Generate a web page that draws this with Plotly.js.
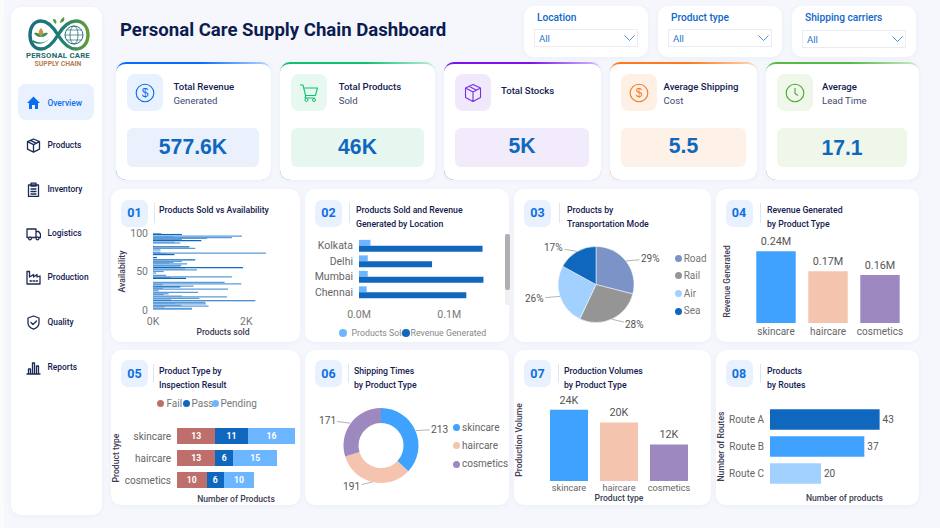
<!DOCTYPE html>
<html><head><meta charset="utf-8">
<script src="https://cdn.plot.ly/plotly-3.0.1.min.js"></script>
<style>
html,body{margin:0;padding:0;width:940px;height:528px;overflow:hidden;background:#f5f7fd}
#page{position:relative;width:940px;height:528px;overflow:hidden;font-family:Roboto,sans-serif}
.box{position:absolute;box-sizing:border-box}
.card{position:absolute;box-sizing:border-box;background:#fff;border-radius:10px;box-shadow:0 1px 5px rgba(40,70,130,.05)}
.t{position:absolute;white-space:nowrap;transform:translateY(-50%);line-height:1}
.plot{position:absolute}
</style></head><body><div id="page"></div>
<script>
// ---------- chart data ----------
const availability = [99,98,96,95,94,93,91,90,88,87,83,82,80,78,75,74,73,72,68,65,63,62,61,60,58,57,55,53,52,50,48,45,43,42,41,36,34,33,31,30,28,27,25,23,21,20,18,17,15,13,12,10,9,8,6,5,4,2,1];
const productsSold = [180,620,1907,440,1690,1157,620,1035,465,585,15,780,905,160,160,2420,280,457,85,905,620,440,350,730,607,585,1930,693,943,230,65,280,1690,370,707,1535,1893,207,870,585,207,1607,120,964,335,230,620,1585,993,393,2193,1120,480,1135,607,1190,250,835,835];
const locations = ["Kolkata","Delhi","Mumbai","Chennai"];
const locationSold = [12700,9700,9700,8500];
const locationRevenue = [137000,81000,138000,119000];
const modes = ["Road","Rail","Air","Sea"];
const modeShare = [29,28,26,17];
const productTypes = ["skincare","haircare","cosmetics"];
const revenueByType = [241628,174455,161521];
const revenueLabels = ["0.24M","0.17M","0.16M"];
const inspectFail = [13,13,10];
const inspectPass = [11,6,6];
const inspectPending = [16,15,10];
const shippingTimes = [213,191,171];
const productionVolume = [24000,19700,12300];
const productionLabels = ["24K","20K","12K"];
const routes = ["Route A","Route B","Route C"];
const routeProducts = [43,37,20];
const kpiValues = ["577.6K","46K","5K","5.5","17.1"];
const navItems = ["Overview","Products","Inventory","Logistics","Production","Quality","Reports"];
const filterNames = ["Location","Product type","Shipping carriers"];

// ---------- palette ----------
const DARK="#1068BE",SKY="#40A2FF",LIGHT="#6CB6FF",PALE="#A2D0FF",PEACH="#F4C4AE",LILAC="#9D88C0",NAVY="#13204f",GREY="#666",AXT="#3d3d55";
const FONT='Roboto,sans-serif';
const page=document.getElementById("page");
function el(cls,style,html){const d=document.createElement("div");d.className=cls;d.style.cssText=style;if(html!=null)d.innerHTML=html;page.appendChild(d);return d;}
function rect(x0,y0,x1,y1,extra){return `left:${x0}px;top:${y0}px;width:${x1-x0}px;height:${y1-y0}px;${extra||""}`;}
function text(x,y,s,size,color,weight,extra){return el("t",`left:${x}px;top:${y}px;font-size:${size}px;color:${color};font-weight:${weight||400};${extra||""}`,s);}
function dot(x,y,c,d){d=d||8;el("box",`left:${x-d/2}px;top:${y-d/2}px;width:${d}px;height:${d}px;border-radius:50%;background:${c}`);}

// ---------- shell ----------
el("box",rect(0,0,4,528,"background:#fbfbfc"));
el("card",rect(11,7,102,515));
// logo
el("box",rect(28,17,90,53),`<svg width="62" height="36" viewBox="0 0 62 36">
<defs><linearGradient id="lg" x1="0" x2="1"><stop offset="0" stop-color="#1b6f7c"/><stop offset=".55" stop-color="#1e7f76"/><stop offset="1" stop-color="#5f9c3c"/></linearGradient></defs>
<path d="M30 18C24 8 19 4 13 4 6 4 2 10 2 18s4 14 11 14c6 0 11-4 17-14s11-14 18-14 12 6 12 14-5 14-12 14c-7 0-12-4-18-14z" fill="none" stroke="url(#lg)" stroke-width="3.4"/>
<circle cx="46" cy="18" r="9" fill="none" stroke="#27707c" stroke-width="1"/><ellipse cx="46" cy="18" rx="4" ry="9" fill="none" stroke="#27707c" stroke-width=".8"/><path d="M37 18h18M38.5 13h15M38.5 23h15" stroke="#27707c" stroke-width=".7"/>
<path d="M13 20c-3-3-3-6 0-9 3 3 3 6 0 9z" fill="#c9963d"/><path d="M13 20c-4 0-6-2-7-4 3-1 6 0 7 4zM13 20c4 0 6-2 7-4-3-1-6 0-7 4z" fill="#3f8f58"/>
<path d="M5 23c4 3 11 4 16-1-4 5-12 6-16 3z" fill="#1e7f76"/><path d="M32 6c0-3 2-5 4-6 1 3 0 5-4 6zM28 7c-2-1-3-3-3-5 3 0 4 2 3 5z" fill="#4f9a45"/></svg>`);
text(58,56,"PERSONAL CARE",7.8,"#1f6a6f",700,"transform:translate(-50%,-50%);letter-spacing:.2px");
text(58,64.3,"SUPPLY CHAIN",6.8,"#b87a52",700,"transform:translate(-50%,-50%)");
el("box",rect(18,84,94,120,"background:#e8f1fd;border-radius:8px"));
const navY=[102.5,145,189,233,277,322,367];
const S=`fill="none" stroke="#1c2b55" stroke-width="1.3" stroke-linejoin="round" stroke-linecap="round"`;
const navIcons=[
`<path d="M1 8L7.5 1.5 14 8h-2v6H9v-4H6v4H3V8z" fill="#0b6cf0"/>`,
`<path d="M7.5 1l6 2.6v7.6l-6 3-6-3V3.6zM1.5 3.6l6 3 6-3M7.5 6.6v7.6M4.5 2.3l6 3" ${S}/>`,
`<path d="M2.5 3h10v11.5h-10zM5 1.2h5v3H5zM5 7h5M5 9.5h5M5 12h5" ${S}/>`,
`<path d="M1 3h9v8.5H1zM10 5.5h2.6L14.5 8v3.5H10zM3 11.5" ${S}/><circle cx="4" cy="12.5" r="1.4" fill="#fff" stroke="#1c2b55" stroke-width="1.2"/><circle cx="11.5" cy="12.5" r="1.4" fill="#fff" stroke="#1c2b55" stroke-width="1.2"/>`,
`<path d="M1 14V1.5h2.5V7l4-2.5V7l3.5-2.5V7l3 -1V14zM4 11h1.5M7 11h1.5M10 11h1.5" ${S}/>`,
`<path d="M7.5 1l5.5 2v5c0 3-2.5 5-5.5 6.2C4.5 13 2 11 2 8V3zM5 7.5l2 2 3.5-3.5" ${S}/>`,
`<path d="M1 14h13M2.5 14V9h2v5M6.5 14V3h2v11M10.500 14V6h2v8" ${S}/>`];
navItems.forEach((n,i)=>{
  el("box",`left:26px;top:${navY[i]-7.5}px;width:15px;height:15px`,`<svg width="15" height="15" viewBox="0 0 15 15">${navIcons[i]}</svg>`);
  text(47.5,navY[i],n,8.4,i?NAVY:"#0b6cf0",500);
});
text(120,30,"Personal Care Supply Chain Dashboard",18.6,"#0d1c50",700);

// filters
const chev=`<svg width="11" height="6" viewBox="0 0 11 6"><path d="M.5.5l5 5 5-5" fill="none" stroke="#3d82c9" stroke-width=".9"/></svg>`;
[524,658,792].forEach((x,i)=>{
  el("card",rect(x,6,x+124,57));
  text(x+13,17.5,filterNames[i],10.2,"#1068c8",500);
  const dy=i==2?1:0;
  el("box",rect(x+10,28.5+dy,x+114,46.5+dy,"border:1px solid #e9edf3;background:#fff"));
  text(x+15,39+dy,"All",9.6,"#2a76cf",400);
  el("box",`left:${x+100}px;top:${35+dy}px;height:6px;width:11px;line-height:0`,chev);
});

// KPI cards
const kpiCfg=[
 {x:[116,271],ic:127,v:259,tx:173.5,c:"#0a6cff",l:"#bcd7ff",ib:"#e8f1fe",vb:"#eaf1fc",a:"Total Revenue",b:"Generated",vy:146.5,
  svg:`<circle cx="10" cy="10" r="8.8" fill="none" stroke="#0b6cf0" stroke-width="1.1"/><text x="10" y="14.300" font-size="12" text-anchor="middle" fill="#0b6cf0" font-family="Liberation Sans">$</text>`},
 {x:[280,435],ic:291,v:424,tx:338.7,c:"#0cc26e",l:"#bdeed6",ib:"#e6f8ef",vb:"#e6f7ef",a:"Total Products",b:"Sold",vy:146.5,
  svg:`<path d="M1 2h3l2.600 10.500h9.800L18.500 5H4.700M6.800 12.500l-.8 2.500h10" fill="none" stroke="#12c271" stroke-width="1.1" stroke-linejoin="round"/><circle cx="7.500" cy="17" r="1.500" fill="none" stroke="#12c271"/><circle cx="15" cy="17" r="1.500" fill="none" stroke="#12c271"/>`},
 {x:[444,601],ic:455,v:589,tx:501,c:"#7a12ef",l:"#d6c0fa",ib:"#f0e9fc",vb:"#f1ebfb",a:"Total Stocks",b:"",vy:145.8,
  svg:`<path d="M10 1.500l7.500 3.500v9.500L10 18.500l-7.500-4V5zM2.500 5L10 9l7.500-4M10 9v9.500M6 3.200l7.500 4" fill="none" stroke="#7a2ee8" stroke-width="1.1" stroke-linejoin="round"/>`},
 {x:[610,757],ic:621,v:746,tx:663.5,c:"#ff7a1a",l:"#ffd9b8",ib:"#fff0e6",vb:"#fef1e7",a:"Average Shipping",b:"Cost",vy:145.8,
  svg:`<circle cx="10" cy="10" r="8.800" fill="none" stroke="#f57c1f" stroke-width="1.100"/><text x="10" y="14.300" font-size="12" text-anchor="middle" fill="#f57c1f" font-family="Liberation Sans">$</text>`},
 {x:[766,919],ic:777,v:907,tx:822,c:"#58b947",l:"#cfeac8",ib:"#eef7e9",vb:"#eef7ea",a:"Average",b:"Lead Time",vy:147.5,
  svg:`<circle cx="10" cy="10" r="8.800" fill="none" stroke="#47a92f" stroke-width="1.100"/><path d="M10 5v5.500l3 2" fill="none" stroke="#47a92f" stroke-width="1.100"/>`}];
kpiCfg.forEach((k,i)=>{
  el("box",rect(k.x[0],62,k.x[1],180,`border-top:2px solid transparent;border-radius:10px;box-shadow:0 1px 5px rgba(40,70,130,.05);background:linear-gradient(#fff,#fff) padding-box,linear-gradient(90deg,${k.c} 0%,${k.c} 55%,${k.l} 100%) border-box`));
  el("box",rect(k.ic,74,k.ic+36,111,`background:${k.ib};border-radius:8px`),`<svg width="20" height="20" viewBox="0 0 20 20" style="position:absolute;left:8px;top:8.500px">${k.svg}</svg>`);
  el("box",rect(k.ic,128,k.v,167,`background:${k.vb};border-radius:6px`));
  text((k.ic+k.v)/2,k.vy,kpiValues[i],21.2,DARK,700,`font-family:"Liberation Sans";transform:translate(-50%,-50%)`);
  if(k.b){text(k.tx,87,k.a,9.6,NAVY,500);text(k.tx,101,k.b,9.6,"#3d4a72",400);}
  else text(k.tx,90.500,k.a,9.6,NAVY,500);
});

// chart cards
const colX=[[111,300],[305,509],[514,711],[716,919]];
const rowY=[[189,342],[349.500,505]];
const heads=[
 {n:"01",b:121,d:153.500,t:159,l:["Products Sold vs Availability"]},
 {n:"02",b:315,d:349,t:356,l:["Products Sold and Revenue","Generated by Location"]},
 {n:"03",b:524,d:559,t:567,l:["Products by","Transportation Mode"]},
 {n:"04",b:725.500,d:759.500,t:767,l:["Revenue Generated","by Product Type"]},
 {n:"05",b:121,d:152.500,t:159,l:["Product Type by","Inspection Result"]},
 {n:"06",b:315,d:347.500,t:354,l:["Shipping Times","by Product Type"]},
 {n:"07",b:524,d:557.500,t:564,l:["Production Volumes","by Product Type"]},
 {n:"08",b:725.500,d:759.500,t:767,l:["Products","by Routes"]}];
heads.forEach((h,i)=>{
  const r=i<4?0:1,c=colX[i%4],y=rowY[r];
  el("card",rect(c[0],y[0],c[1],y[1]));
  const by=y[0]+10.500;
  el("box",rect(h.b,by,h.b+27,by+27,"background:#e8f1fd;border-radius:7px"));
  text(h.b+13.500,by+13.700,h.n,12.500,"#0f6fdf",700,"transform:translate(-50%,-50%)");
  el("box",rect(h.d,by+3.500,h.d+1,by+23,"background:#dde6f3"));
  h.l.forEach((s,j)=>text(h.t,by+10.800+j*13.700,s,8.700,NAVY,500));
});
// scrollbar
el("box",rect(505,234,510,305,"background:#f0f0f0;border-radius:2px"));
el("box",rect(505,234,510,290,"background:#b0b0b0;border-radius:2px"));

// HTML legends
dot(343.300,333,LIGHT);text(351.500,333,"Products Sold",8.800,"#888");
dot(405.700,333,DARK);text(410.500,333,"Revenue Generated",8.800,"#888");
[258.700,275.700,293.700,311].forEach((y,i)=>{dot(678.700,y,[ "#7B93C6","#959595",PALE,DARK][i],7);text(683.700,y,modes[i],10,"#777");});
[["Fail","#BF6F6B",160.700,166.500],["Pass",DARK,186.500,191.500],["Pending",LIGHT,215.500,220.500]].forEach(a=>{dot(a[2],403.800,a[1],7);text(a[3],403.800,a[0],10,"#777");});
[427.700,445.700,464.300].forEach((y,i)=>{dot(456.300,y,[SKY,PEACH,LILAC][i],7);text(462,y,productTypes[i],10,"#666");});

// ---------- plotly ----------
const tf=(s,c)=>({family:FONT,size:s||10,color:c||GREY});
const blankAxis={showgrid:false,zeroline:false,showline:false,ticks:"",fixedrange:true};
function axisTitle(txt,standoff,size){return {text:txt,standoff:standoff,font:{family:FONT,size:size||8.600,color:AXT,weight:500}};}
function draw(cardIdx,plot,traces,layout){
  const r=cardIdx<4?0:1,c=colX[cardIdx%4],y=rowY[r];
  const d=el("plot",rect(c[0],y[0],c[1],y[1]));
  const W=c[1]-c[0],H=y[1]-y[0];
  const lay=Object.assign({width:W,height:H,paper_bgcolor:"rgba(0,0,0,0)",plot_bgcolor:"rgba(0,0,0,0)",showlegend:false,
    margin:{l:plot[0]-c[0],r:c[1]-plot[2],t:plot[1]-y[0],b:y[1]-plot[3],pad:0,autoexpand:false},font:tf()},layout);
  Plotly.newPlot(d,traces,lay,{staticPlot:true,displayModeBar:false});
}
function pieNotes(vals,labels,offs,size,cl){
  const tot=vals.reduce((a,b)=>a+b,0);let cum=0;
  return vals.map((v,i)=>{const m=(cum+v/2)/tot*2*Math.PI;cum+=v;
    return {xref:"paper",yref:"paper",x:.5+.5*Math.sin(m),y:.5+.5*Math.cos(m),text:labels[i],showarrow:true,arrowhead:0,arrowwidth:.9,arrowcolor:"#aaa",standoff:0,
      axref:"pixel",ayref:"pixel",ax:offs[i][0],ay:offs[i][1],font:tf(size,cl)};});
}
// 01
const darkRows=[98,90,82,72,68,65,55,41,30,12,91];
draw(0,[152.700,231,292.700,312],[{type:"bar",orientation:"h",y:availability,x:productsSold,width:1.600,
  marker:{color:availability.map(a=>darkRows.includes(a)?DARK:"#5B9BD8")}}],{
  xaxis:Object.assign({},blankAxis,{range:[0,3000],tickvals:[0,2000],ticktext:["0K","2K"],tickfont:tf(10.500,"#777"),ticklabelstandoff:1,automargin:true,title:axisTitle("Products sold",1,8.600)}),
  yaxis:Object.assign({},blankAxis,{range:[-2.600,102.600],tickvals:[0,50,100],tickfont:tf(10.500,"#777"),ticklabelstandoff:4,automargin:true,title:axisTitle("Availability",3,8.600)})});
// 02
draw(1,[359.300,238.300,495,299.700],[
 {type:"bar",orientation:"h",name:"Products Sold",y:locations,x:locationSold,marker:{color:LIGHT}},
 {type:"bar",orientation:"h",name:"Revenue Generated",y:locations,x:locationRevenue,marker:{color:DARK}}],{
  barmode:"group",bargap:.24,bargroupgap:0,
  xaxis:Object.assign({},blankAxis,{range:[0,.1508e6],tickvals:[0,100000],ticktext:["0.0M","0.1M"],tickfont:tf(10.500,"#777"),ticklabelstandoff:6}),
  yaxis:Object.assign({},blankAxis,{type:"category",autorange:"reversed",tickfont:tf(10.500,"#666"),ticklabelstandoff:5})});
// 03
draw(2,[557.700,246,634.300,322.600],[{type:"pie",values:modeShare,labels:modes,sort:false,direction:"clockwise",rotation:0,textinfo:"none",
  marker:{colors:["#7B93C6","#959595",PALE,DARK],line:{color:"#fff",width:.5}}}],{
  annotations:pieNotes(modeShare,modeShare.map(v=>v+"%"),[[24.400,-2],[22.700,5.300],[-25.600,2.200],[-22.800,-4]],10,"#555")});
// 04
draw(3,[749.500,240,905.700,323.300],[{type:"bar",x:productTypes,y:revenueByType,text:revenueLabels,textposition:"outside",cliponaxis:false,
  textfont:tf(10.800,"#555"),marker:{color:[SKY,PEACH,LILAC]}}],{
  bargap:.242,
  xaxis:Object.assign({},blankAxis,{type:"category",tickfont:tf(10,"#666"),ticklabelstandoff:1}),
  yaxis:Object.assign({},blankAxis,{range:[0,279500],showticklabels:false,automargin:true,title:axisTitle("Revenue Generated",17,8.300)})});
// 05
const insp=(name,vals,c)=>({type:"bar",orientation:"h",name:name,y:productTypes,x:vals,text:vals.map(String),textposition:"inside",insidetextanchor:"middle",textangle:0,
  textfont:{family:FONT,size:10.500,color:"#fff",weight:700},marker:{color:c}});
draw(4,[176.700,424.800,295.500,490],[insp("Fail",inspectFail,"#BF6F6B"),insp("Pass",inspectPass,DARK),insp("Pending",inspectPending,LIGHT)],{
  barmode:"stack",bargap:.24,
  xaxis:Object.assign({},blankAxis,{range:[0,40],showticklabels:false,automargin:true,title:axisTitle("Number of Products",4,8.600)}),
  yaxis:Object.assign({},blankAxis,{type:"category",autorange:"reversed",tickfont:tf(10,"#666"),ticklabelstandoff:5,automargin:true,title:axisTitle("Product type",3,8.600)})});
// 06
draw(5,[343.300,407,418.700,482.400],[{type:"pie",values:shippingTimes,labels:productTypes,sort:false,direction:"clockwise",rotation:0,hole:.6,textinfo:"none",
  marker:{colors:[SKY,PEACH,LILAC]}}],{
  annotations:pieNotes(shippingTimes,shippingTimes.map(String),[[23.700,-1.500],[-20.800,4.900],[-23.400,-3]],10.200,"#555")});
// 07
draw(6,[544,398,694,480.300],[{type:"bar",x:productTypes,y:productionVolume,text:productionLabels,textposition:"outside",cliponaxis:false,
  textfont:tf(10.800,"#555"),marker:{color:[SKY,PEACH,LILAC]}}],{
  bargap:.24,
  xaxis:Object.assign({},blankAxis,{type:"category",tickfont:tf(9.200,"#666"),ticklabelstandoff:0,automargin:true,title:axisTitle("Product type",0,8.600)}),
  yaxis:Object.assign({},blankAxis,{range:[0,27590],showticklabels:false,automargin:true,title:axisTitle("Production Volume",18,8.600)})});
// 08
draw(7,[770.300,405,919,486],[{type:"bar",orientation:"h",y:routes,x:routeProducts,text:routeProducts.map(String),textposition:"outside",cliponaxis:false,
  textfont:tf(10,"#555"),marker:{color:[DARK,SKY,PALE]}}],{
  bargap:.245,
  xaxis:Object.assign({},blankAxis,{range:[0,58.450],showticklabels:false,automargin:true,title:axisTitle("Number of products",7,8.600)}),
  yaxis:Object.assign({},blankAxis,{type:"category",autorange:"reversed",tickfont:tf(10,"#666"),ticklabelstandoff:5,automargin:true,title:axisTitle("Number of Routes",4,8.600)})});
</script></body></html>
